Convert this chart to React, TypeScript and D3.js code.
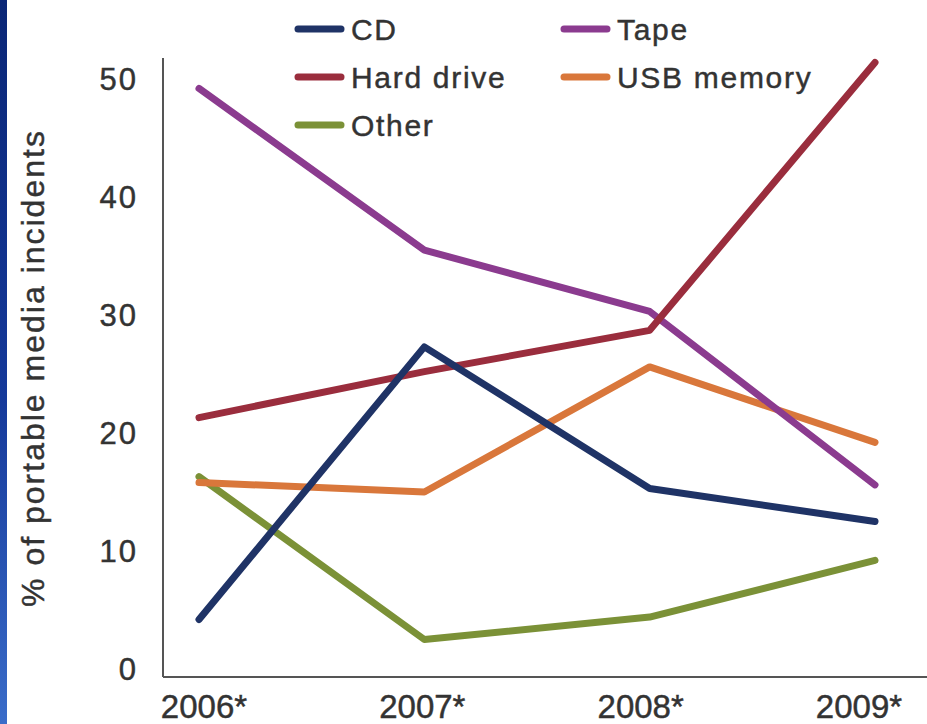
import React from "react";
import * as d3 from "d3";

const years = ["2006*", "2007*", "2008*", "2009*"];
const yTicks = [0, 10, 20, 30, 40, 50];

const cd = [4.2, 27.3, 15.3, 12.5];
const tape = [49.2, 35.5, 30.3, 15.6];
const hardDrive = [21.3, 25.2, 28.7, 51.4];
const usbMemory = [15.8, 15.0, 25.6, 19.2];
const other = [16.3, 2.5, 4.4, 9.2];

const seriesNames = ["CD", "Tape", "Hard drive", "USB memory", "Other"];
const seriesColors = ["#1f3366", "#8b3b8f", "#9a2d3d", "#d9773b", "#7b9137"];

const W = 927;
const H = 724;
const FONT = "'Liberation Sans', Arial, sans-serif";
const TEXT = "#333333";

export default function App() {
  const valuesByName: Record<string, number[]> = {
    CD: cd,
    Tape: tape,
    "Hard drive": hardDrive,
    "USB memory": usbMemory,
    Other: other,
  };
  const colorByName: Record<string, string> = {};
  seriesNames.forEach((n, i) => (colorByName[n] = seriesColors[i]));

  const x = d3.scalePoint<string>().domain(years).range([199, 875]);
  const xLabel = d3.scalePoint<string>().domain(years).range([204, 859]);
  const y = d3.scaleLinear().domain([0, 50]).range([669, 79]);

  const line = d3
    .line<number>()
    .x((_, i) => x(years[i]) as number)
    .y((v) => y(v));

  // paint order: later series sit on top
  const drawOrder = ["Other", "USB memory", "Tape", "Hard drive", "CD"];

  const legend = [
    { name: "CD", lx: 295, ly: 29 },
    { name: "Hard drive", lx: 295, ly: 77 },
    { name: "Other", lx: 295, ly: 125 },
    { name: "Tape", lx: 561, ly: 29 },
    { name: "USB memory", lx: 561, ly: 77 },
  ];

  const axisLeft = 163;
  const axisBottom = 677;

  const textStyle = {
    fontFamily: FONT,
    fill: TEXT,
    stroke: TEXT,
    strokeWidth: 0.45,
  } as const;

  return (
    <svg
      width={W}
      height={H}
      viewBox={`0 0 ${W} ${H}`}
      style={{ position: "absolute", left: 0, top: 0, display: "block", background: "#ffffff" }}
    >
      <defs>
        <linearGradient id="edge" x1="0" y1="0" x2="0" y2="1">
          <stop offset="0" stopColor="#0a2676" />
          <stop offset="0.55" stopColor="#15399a" />
          <stop offset="1" stopColor="#3a6cc9" />
        </linearGradient>
      </defs>
      <rect x={0} y={0} width={W} height={H} fill="#ffffff" />
      <rect x={0} y={0} width={7} height={H} fill="url(#edge)" />

      {/* axes */}
      <line x1={axisLeft} y1={58} x2={axisLeft} y2={axisBottom} stroke="#555" strokeWidth={2} />
      <line x1={axisLeft} y1={axisBottom} x2={W} y2={axisBottom} stroke="#555" strokeWidth={2} />

      {yTicks.map((t) => (
        <text
          key={t}
          x={138}
          y={y(t)}
          dy="0.36em"
          textAnchor="end"
          fontSize={31}
          letterSpacing={2}
          {...textStyle}
        >
          {t}
        </text>
      ))}

      {years.map((yr) => (
        <text
          key={yr}
          x={xLabel(yr) as number}
          y={718}
          textAnchor="middle"
          fontSize={33}
          {...textStyle}
        >
          {yr}
        </text>
      ))}

      <text
        transform={`translate(44,368) rotate(-90)`}
        textAnchor="middle"
        fontSize={32}
        letterSpacing={2}
        {...textStyle}
      >
        % of portable media incidents
      </text>

      {/* series */}
      {drawOrder.map((name) => (
        <path
          key={name}
          d={line(valuesByName[name]) || ""}
          fill="none"
          stroke={colorByName[name]}
          strokeWidth={7}
          strokeLinecap="round"
          strokeLinejoin="round"
        />
      ))}

      {/* legend */}
      {legend.map((l) => (
        <g key={l.name}>
          <line
            x1={l.lx + 3}
            y1={l.ly}
            x2={l.lx + 46}
            y2={l.ly}
            stroke={colorByName[l.name]}
            strokeWidth={7}
            strokeLinecap="round"
          />
          <text
            x={l.lx + 56}
            y={l.ly}
            dy="0.36em"
            fontSize={30}
            letterSpacing={1.7}
            {...textStyle}
          >
            {l.name}
          </text>
        </g>
      ))}
    </svg>
  );
}
